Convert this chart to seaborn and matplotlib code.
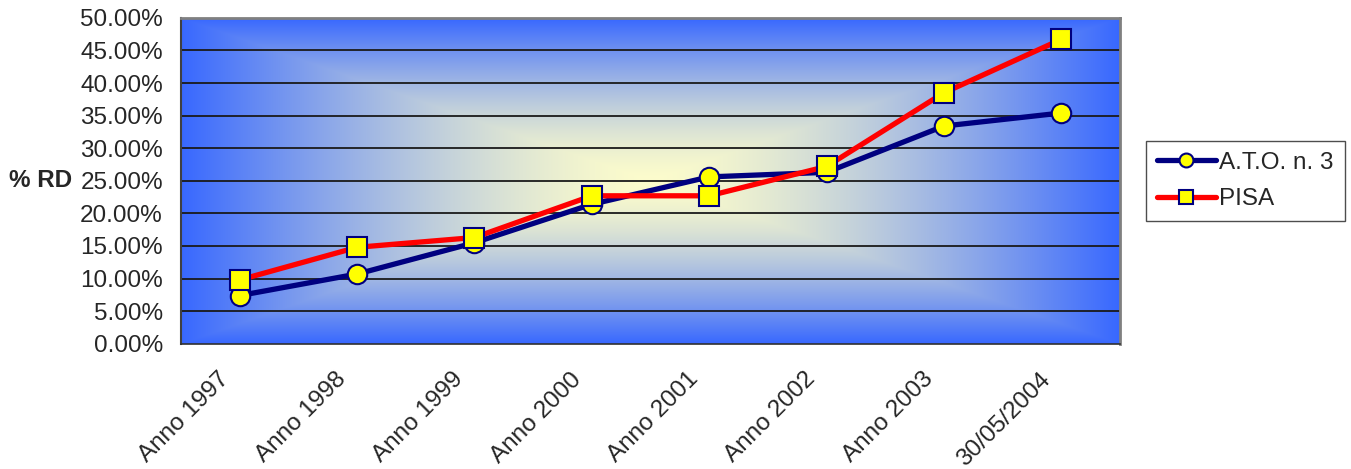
import numpy as np
import pandas as pd
import seaborn as sns
import matplotlib.pyplot as plt
from matplotlib.lines import Line2D
from matplotlib.transforms import ScaledTranslation

# Data
periods = ["Anno 1997", "Anno 1998", "Anno 1999", "Anno 2000",
           "Anno 2001", "Anno 2002", "Anno 2003", "30/05/2004"]
ato_n3 = [7.4, 10.7, 15.5, 21.4, 25.6, 26.3, 33.4, 35.4]
pisa = [9.8, 14.8, 16.3, 22.7, 22.7, 27.2, 38.5, 46.7]
y_ticks = np.arange(0, 55, 5)

df = pd.DataFrame({
    "pos": np.arange(len(periods)),
    "period": periods,
    "A.T.O. n. 3": ato_n3,
    "PISA": pisa,
})

sns.set_style("white")
plt.rcParams["font.family"] = ["Liberation Sans", "DejaVu Sans"]

fig = plt.figure(figsize=(13.51, 4.69), dpi=100)
ax = fig.add_axes([0.134, 0.267, 0.695, 0.695])

# ==== background gradient (rectangular, from centre) ====
n = 400
u = np.linspace(-1, 1, n)
U, V = np.meshgrid(u, u)
t = np.clip(np.maximum(np.abs(U), np.abs(V)), 0, 1) ** 1.5
center = np.array([252, 252, 204]) / 255
edge = np.array([56, 104, 255]) / 255
img = center[None, None, :] * (1 - t[..., None]) + edge[None, None, :] * t[..., None]
ax.imshow(img, extent=[0, 1, 0, 1], transform=ax.transAxes, aspect="auto",
          zorder=0, interpolation="bilinear")

# gridlines
for yv in y_ticks[1:]:
    ax.axhline(yv, color="#1a1a1a", lw=1.3, zorder=1)

# ==== series ====
sns.lineplot(data=df, x="pos", y="A.T.O. n. 3", ax=ax, color="#000080", lw=3.8,
             marker="o", markersize=14, markerfacecolor="#FFFF00",
             markeredgecolor="#000080", markeredgewidth=1.5, sort=False,
             zorder=3)
sns.lineplot(data=df, x="pos", y="PISA", ax=ax, color="#FF0000", lw=3.8,
             marker="s", markersize=14, markerfacecolor="#FFFF00",
             markeredgecolor="#000080", markeredgewidth=1.5, sort=False,
             zorder=4)

ax.set_xlim(-0.5, len(periods) - 0.5)
ax.set_ylim(0, 50)
ax.set_yticks(y_ticks)
ax.set_yticklabels([f"{v:.2f}%" for v in y_ticks], fontsize=17.5)
ax.set_xticks(np.arange(len(periods) + 1) - 0.5)
ax.set_xticklabels([])
ax.set_xticks(np.arange(len(periods)), minor=True)
ax.set_xticklabels(periods, minor=True, rotation=45, ha="right",
                   rotation_mode="anchor", fontsize=17.5)
ax.tick_params(axis="x", which="minor", length=0, pad=14)
ax.tick_params(axis="x", which="major", direction="out", length=7,
               color="#303030", width=1.2)
ax.tick_params(axis="y", direction="out", length=7, color="#202020",
               width=1.2, pad=6)

shift = ScaledTranslation(-0.22, -0.05, fig.dpi_scale_trans)
for lab in ax.get_xticklabels(minor=True):
    lab.set_transform(lab.get_transform() + shift)

ax.set_xlabel("")
ax.set_ylabel("")
ax.text(-0.116, 0.5, "% RD", transform=ax.transAxes, fontsize=17.5,
        fontweight="bold", ha="right", va="center")

for side in ["top", "right"]:
    ax.spines[side].set_color("#808080")
    ax.spines[side].set_linewidth(2)
ax.spines["left"].set_color("#404040")
ax.spines["left"].set_linewidth(1.5)
ax.spines["bottom"].set_color("#303030")
ax.spines["bottom"].set_linewidth(1.2)

handles = [
    Line2D([], [], color="#000080", lw=3.8, marker="o", markersize=10,
           markerfacecolor="#FFFF00", markeredgecolor="#000080",
           markeredgewidth=1.5),
    Line2D([], [], color="#FF0000", lw=3.8, marker="s", markersize=10,
           markerfacecolor="#FFFF00", markeredgecolor="#000080",
           markeredgewidth=1.5),
]
leg = ax.legend(handles, ["A.T.O. n. 3", "PISA"], loc="center left",
                bbox_to_anchor=(1.028, 0.5), borderaxespad=0, fontsize=17.5,
                frameon=True, fancybox=False, edgecolor="#202020",
                handlelength=2.4, handletextpad=0.15, borderpad=0.45,
                labelspacing=0.6)
leg.get_frame().set_linewidth(1.0)

plt.savefig("out.png", dpi=100)
